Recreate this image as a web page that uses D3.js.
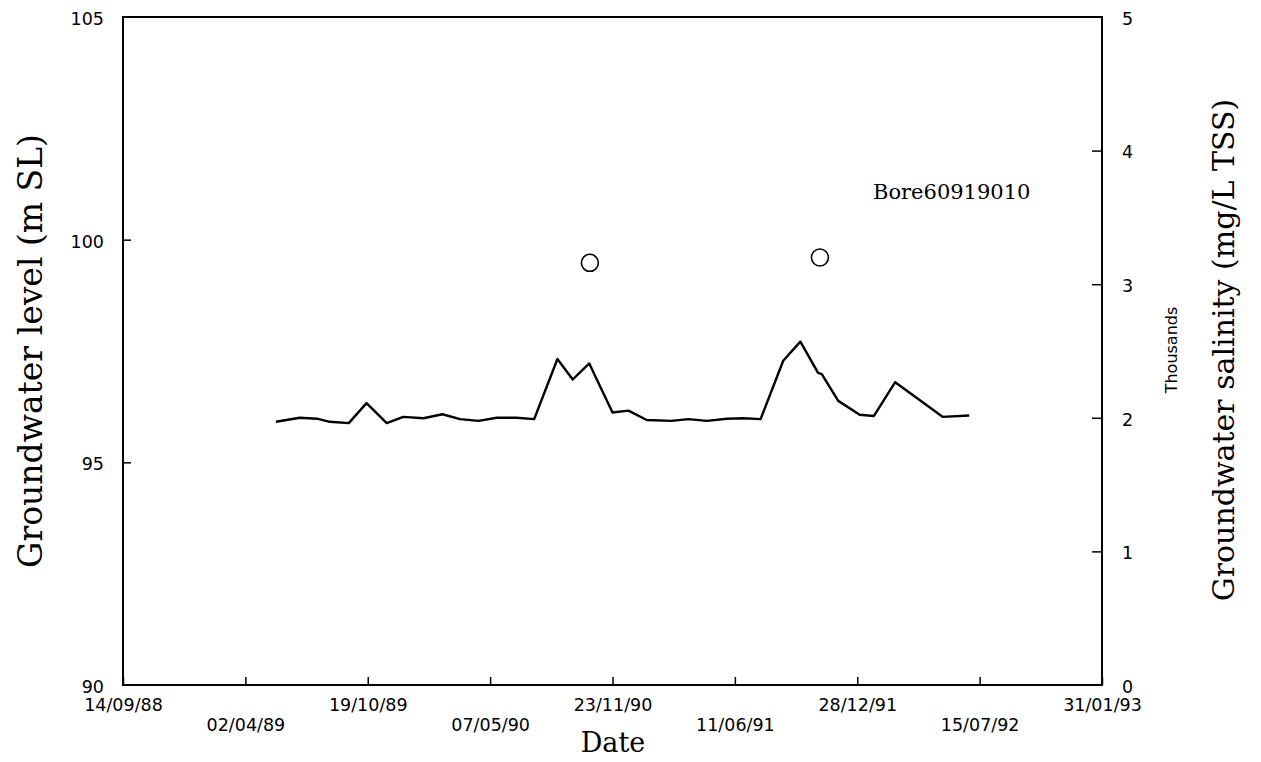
<!DOCTYPE html>
<html>
<head>
<meta charset="utf-8">
<script src="https://cdn.jsdelivr.net/npm/d3@7"></script>
<style>
  html, body { margin: 0; padding: 0; background: #fff; }
  svg { display: block; }
</style>
</head>
<body>
<svg id="chart" width="1261" height="762"></svg>
<script>
// Groundwater level record (m SL), bore 60919010
const levelDates = [
  "1989-05-22","1989-06-30","1989-07-28","1989-08-18","1989-09-18","1989-10-17",
  "1989-11-19","1989-12-16","1990-01-18","1990-02-18","1990-03-19","1990-04-18",
  "1990-05-18","1990-06-19","1990-07-18","1990-08-25","1990-09-19","1990-10-16",
  "1990-11-23","1990-12-19","1991-01-18","1991-02-27","1991-03-27","1991-04-26",
  "1991-05-29","1991-06-25","1991-07-23","1991-08-29","1991-09-26","1991-10-25",
  "1991-10-31","1991-11-27","1992-01-01","1992-01-24","1992-02-28","1992-05-16",
  "1992-06-28"
];
const levelValues = [
  95.91, 96.00, 95.98, 95.91, 95.88, 96.33,
  95.88, 96.02, 95.99, 96.08, 95.97, 95.93,
  96.00, 96.00, 95.97, 97.32, 96.86, 97.22,
  96.12, 96.16, 95.95, 95.93, 95.97, 95.93,
  95.98, 95.99, 95.97, 97.28, 97.71, 97.01,
  96.98, 96.38, 96.07, 96.04, 96.80, 96.02,
  96.05
];

// Groundwater salinity samples (mg/L TSS)
const salinityDates = ["1990-10-17", "1991-10-28"];
const salinityValues = [3160, 3200];

// Axis ticks
const dateTickLabels = ["14/09/88","02/04/89","19/10/89","07/05/90","23/11/90",
                        "11/06/91","28/12/91","15/07/92","31/01/93"];
const levelTicks = [90, 95, 100, 105];
const salinityTicks = [0, 1000, 2000, 3000, 4000, 5000];

const W = 1261, H = 762;
const margin = { top: 17, right: 159, bottom: 77, left: 123 };
const plotW = W - margin.left - margin.right;
const plotH = H - margin.top - margin.bottom;

const parseIso = d3.utcParse("%Y-%m-%d");
const parseTick = d3.utcParse("%d/%m/%y");
const tickDates = dateTickLabels.map(parseTick);
const fmtTick = d3.utcFormat("%d/%m/%y");

const svg = d3.select("#chart");
const g = svg.append("g").attr("transform", `translate(${margin.left},${margin.top})`);

const x = d3.scaleUtc()
  .domain([tickDates[0], tickDates[tickDates.length - 1]])
  .range([0, plotW]);
const yL = d3.scaleLinear().domain([90, 105]).range([plotH, 0]);
const yR = d3.scaleLinear().domain([0, 5000]).range([plotH, 0]);

const sans = "'DejaVu Sans', sans-serif";
const serif = "'DejaVu Serif', serif";

// Frame
g.append("rect")
  .attr("x", 0).attr("y", 0)
  .attr("width", plotW).attr("height", plotH)
  .attr("fill", "none").attr("stroke", "#000").attr("stroke-width", 2);

// Bottom axis: inward ticks, labels staggered on two rows
const xAxis = g.append("g")
  .attr("transform", `translate(0,${plotH})`)
  .call(d3.axisBottom(x).tickValues(tickDates).tickSize(-8).tickFormat(fmtTick));
xAxis.select(".domain").remove();
xAxis.selectAll(".tick line").attr("stroke", "#000").attr("stroke-width", 1.5);
xAxis.selectAll(".tick text")
  .attr("font-family", sans).attr("font-size", 17.5).attr("fill", "#000")
  .attr("dy", null)
  .attr("y", (d, i) => i % 2 === 0 ? 26 : 46);

// Left axis
const yAxisL = g.append("g")
  .call(d3.axisLeft(yL).tickValues(levelTicks).tickSize(-8).tickPadding(19).tickFormat(d3.format("d")));
yAxisL.select(".domain").remove();
yAxisL.selectAll(".tick line").attr("stroke", "#000").attr("stroke-width", 1.5)
  .attr("opacity", d => (d === 90 || d === 105) ? 0 : 1);
yAxisL.selectAll(".tick text")
  .attr("font-family", sans).attr("font-size", 17.5).attr("fill", "#000")
  .attr("dy", "0.42em");

// Right axis (thousands)
const yAxisR = g.append("g")
  .attr("transform", `translate(${plotW},0)`)
  .call(d3.axisRight(yR).tickValues(salinityTicks).tickSize(-10).tickPadding(20)
    .tickFormat(d => d3.format("d")(d / 1000)));
yAxisR.select(".domain").remove();
yAxisR.selectAll(".tick line").attr("stroke", "#000").attr("stroke-width", 1.5)
  .attr("opacity", d => (d === 0 || d === 5000) ? 0 : 1);
yAxisR.selectAll(".tick text")
  .attr("font-family", sans).attr("font-size", 17.5).attr("fill", "#000")
  .attr("dy", "0.42em");

// Groundwater level line
const levelData = levelDates.map((d, i) => ({ date: parseIso(d), value: levelValues[i] }));
g.append("path")
  .datum(levelData)
  .attr("fill", "none")
  .attr("stroke", "#000")
  .attr("stroke-width", 2.4)
  .attr("stroke-linejoin", "round")
  .attr("d", d3.line().x(d => x(d.date)).y(d => yL(d.value)));

// Salinity samples
const salinityData = salinityDates.map((d, i) => ({ date: parseIso(d), value: salinityValues[i] }));
g.selectAll("circle.salinity")
  .data(salinityData)
  .join("circle")
  .attr("class", "salinity")
  .attr("cx", d => x(d.date))
  .attr("cy", d => yR(d.value))
  .attr("r", 8.5)
  .attr("fill", "#fff")
  .attr("stroke", "#000")
  .attr("stroke-width", 1.6);

// Bore label
svg.append("text")
  .attr("x", 873).attr("y", 199)
  .attr("font-family", serif).attr("font-size", 21)
  .attr("fill", "#000")
  .text("Bore60919010");

// Axis titles
svg.append("text")
  .attr("transform", "translate(42,351) rotate(-90)")
  .attr("text-anchor", "middle")
  .attr("font-family", serif).attr("font-size", 33).attr("fill", "#000")
  .text("Groundwater level (m SL)");

svg.append("text")
  .attr("transform", "translate(1234,350) rotate(-90)")
  .attr("text-anchor", "middle")
  .attr("font-family", serif).attr("font-size", 30).attr("fill", "#000")
  .text("Groundwater salinity (mg/L TSS)");

svg.append("text")
  .attr("transform", "translate(1177,350) rotate(-90)")
  .attr("text-anchor", "middle")
  .attr("font-family", sans).attr("font-size", 16).attr("fill", "#000")
  .text("Thousands");

svg.append("text")
  .attr("x", 613).attr("y", 752)
  .attr("text-anchor", "middle")
  .attr("font-family", serif).attr("font-size", 27).attr("fill", "#000")
  .text("Date");
</script>
</body>
</html>
